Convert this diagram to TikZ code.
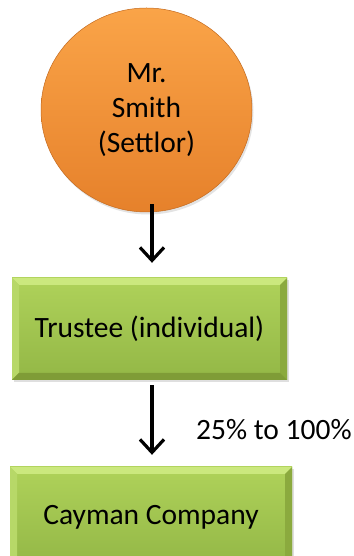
\documentclass[tikz,border=0pt]{standalone}
\usepackage{fontspec}
\setmainfont{Carlito}
\usetikzlibrary{arrows.meta,shapes.geometric,shadows}

\definecolor{orangeTop}{HTML}{FAA448}
\definecolor{orangeBot}{HTML}{E6812B}
\definecolor{orangeEdge}{HTML}{C46A1E}
\definecolor{greenTop}{HTML}{AFD25A}
\definecolor{greenBot}{HTML}{93B746}
\definecolor{bevelLight}{HTML}{CBE87E}
\definecolor{bevelSide}{HTML}{B7D868}
\definecolor{bevelDark}{HTML}{7F9C37}
\definecolor{bevelRight}{HTML}{8BAA3E}

\tikzset{
  txt/.style={font=\fontsize{29.5}{35}\selectfont, text=black},
  person/.style={ellipse, txt, align=center, inner sep=0pt,
    minimum width=211pt, minimum height=204pt,
    top color=orangeTop, bottom color=orangeBot,
    draw=orangeEdge, line width=0.5pt,
    drop shadow={opacity=0.22, shadow xshift=1.5pt, shadow yshift=-2.5pt}},
  entity/.style={rectangle, txt, inner sep=0pt,
    top color=greenTop, bottom color=greenBot,
    drop shadow={opacity=0.25, shadow xshift=1.5pt, shadow yshift=-2.5pt},
    path picture={
      % bevelled edges: light top and left, dark bottom and right
      \fill[bevelLight] (path picture bounding box.north west)
        -- (path picture bounding box.north east)
        -- ([xshift=-7pt,yshift=-7pt]path picture bounding box.north east)
        -- ([xshift=7pt,yshift=-7pt]path picture bounding box.north west) -- cycle;
      \fill[bevelSide] (path picture bounding box.north west)
        -- ([xshift=7pt,yshift=-7pt]path picture bounding box.north west)
        -- ([xshift=7pt,yshift=7pt]path picture bounding box.south west)
        -- (path picture bounding box.south west) -- cycle;
      \fill[bevelRight] (path picture bounding box.north east)
        -- ([xshift=-7pt,yshift=-7pt]path picture bounding box.north east)
        -- ([xshift=-7pt,yshift=7pt]path picture bounding box.south east)
        -- (path picture bounding box.south east) -- cycle;
      \fill[bevelDark] (path picture bounding box.south west)
        -- ([xshift=7pt,yshift=7pt]path picture bounding box.south west)
        -- ([xshift=-7pt,yshift=7pt]path picture bounding box.south east)
        -- (path picture bounding box.south east) -- cycle;
    }},
  arr/.style={line width=3.2pt, draw=black,
    -{Straight Barb[length=13pt,width=24pt,line width=3.2pt]}},
  lbl/.style={txt, inner sep=0pt}
}

\begin{document}
\begin{tikzpicture}[x=1pt,y=1pt]
  \clip (0,0) rectangle (353,556);
  \fill[white] (0,0) rectangle (353,556);

  % the settlor
  \node[person] (smith) at (146.5,446) {Mr.\\Smith\\(Settlor)};

  % trustee and the company held
  \node[entity, minimum width=275pt, minimum height=102pt] (trustee) at (149.5,227) {Trustee (individual)};
  \node[entity, minimum width=282pt, minimum height=100pt] (cayman) at (151,39) {Cayman Company};

  % ownership links
  \draw[arr] ([xshift=5.5pt,yshift=8pt]smith.south) -- ([xshift=2.5pt,yshift=15pt]trustee.north);
  \draw[arr] ([xshift=2.5pt,yshift=-5pt]trustee.south) -- ([xshift=1pt,yshift=12pt]cayman.north);
  \node[lbl, anchor=west] (pct) at (196,126) {25\% to 100\%};
\end{tikzpicture}
\end{document}
